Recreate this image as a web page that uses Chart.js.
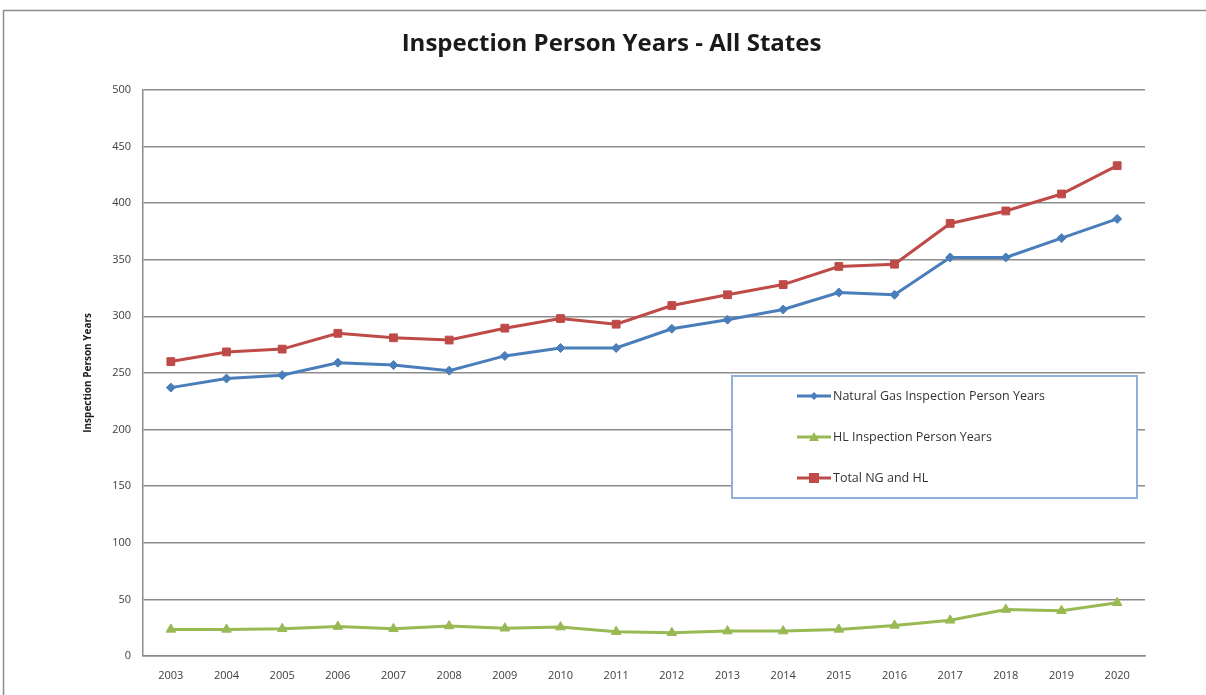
<!DOCTYPE html>
<html>
<head>
<meta charset="utf-8">
<script src="https://cdn.jsdelivr.net/npm/chart.js@4.4.0/dist/chart.umd.min.js"></script>
<style>
  body { margin: 0; background: #fff; }
  #wrap { position: relative; width: 1206px; height: 695px; overflow: hidden; }
</style>
</head>
<body>
<div id="wrap"><canvas id="chart" width="1206" height="695"></canvas></div>
<script>
// values
const years = ["2003","2004","2005","2006","2007","2008","2009","2010","2011","2012",
               "2013","2014","2015","2016","2017","2018","2019","2020"];
const naturalGas = [237, 245, 248, 259, 257, 252, 265, 272, 272, 289, 297, 306, 321, 319, 352, 352, 369, 386];
const hazLiquid  = [23.5, 23.5, 24, 26, 24, 26.5, 24.5, 25.5, 21.5, 20.5, 22, 22, 23.5, 27, 31.5, 41, 40, 47];
const totalNGHL  = [260, 268.5, 271, 285, 281, 279, 289.5, 298, 293, 309.5, 319, 328, 344, 346, 382, 393, 408, 433];
const yTicks = [0, 50, 100, 150, 200, 250, 300, 350, 400, 450, 500];

const blue = "#4a7ebb", green = "#98b954", red = "#be4b48";

// frame + legend box inside the plot, like the Excel original
const framePlugin = {
    id: "frame",
    beforeDraw(chart) {
        const c = chart.ctx;
        c.save();
        c.strokeStyle = "#8c8c8c";
        c.lineWidth = 1.5;
        c.beginPath();
        c.moveTo(3.5, 700);
        c.lineTo(3.5, 10.5);
        c.lineTo(1210, 10.5);
        c.stroke();
        c.restore();
    },
    afterDatasetsDraw(chart) {
        const c = chart.ctx;
        const box = { x: 732, y: 376, w: 405, h: 122 };
        c.save();
        c.fillStyle = "#fff";
        c.fillRect(box.x, box.y, box.w, box.h);
        c.strokeStyle = "#8fb0d8";
        c.lineWidth = 2;
        c.strokeRect(box.x, box.y, box.w, box.h);
        c.font = "12.5px 'Open Sans'";
        c.textBaseline = "middle";
        chart.data.datasets.forEach((ds, i) => {
            const y = 396 + i * 41;
            c.strokeStyle = ds.borderColor;
            c.lineWidth = 3;
            c.beginPath();
            c.moveTo(797, y);
            c.lineTo(831, y);
            c.stroke();
            c.fillStyle = ds.borderColor;
            const cx = 814;
            c.beginPath();
            if (ds.pointStyle === "rect") {
                c.rect(cx - 5, y - 5, 10, 10);
            } else if (ds.pointStyle === "triangle") {
                c.moveTo(cx, y - 5); c.lineTo(cx + 5, y + 4); c.lineTo(cx - 5, y + 4); c.closePath();
            } else {
                c.moveTo(cx, y - 4); c.lineTo(cx + 4, y); c.lineTo(cx, y + 4); c.lineTo(cx - 4, y); c.closePath();
            }
            c.fill();
            c.fillStyle = "#333";
            c.fillText(ds.label, 833, y);
        });
        c.restore();
    }
};

new Chart(document.getElementById("chart"), {
    type: "line",
    data: {
        labels: years,
        datasets: [
            { label: "Natural Gas Inspection Person Years", data: naturalGas,
              borderColor: blue, backgroundColor: blue, pointStyle: "rectRot",
              pointRadius: 4.5, borderWidth: 3, pointBorderWidth: 1 },
            { label: "HL Inspection Person Years", data: hazLiquid,
              borderColor: green, backgroundColor: green, pointStyle: "triangle",
              pointRadius: 5.5, borderWidth: 3, pointBorderWidth: 1 },
            { label: "Total NG and HL", data: totalNGHL,
              borderColor: red, backgroundColor: red, pointStyle: "rect",
              pointRadius: 5.5, borderWidth: 3, pointBorderWidth: 1 }
        ]
    },
    options: {
        responsive: false,
        animation: false,
        layout: { padding: { left: 78, right: 61, top: 20, bottom: 0 } },
        plugins: {
            legend: { display: false },
            tooltip: { enabled: false },
            title: {
                display: true,
                text: "Inspection Person Years - All States",
                color: "#1a1a1a",
                font: { family: "'Open Sans'", size: 24, weight: "bold" },
                padding: { top: 10, bottom: 31 }
            }
        },
        scales: {
            x: {
                offset: true,
                grid: { display: false, drawTicks: false },
                border: { display: true, color: "#8c8c8c", width: 1.5 },
                ticks: { color: "#404040", font: { family: "'Open Sans'", size: 11 }, padding: 13, maxRotation: 0 },
                afterFit(scale) { scale.height = 39; }
            },
            y: {
                min: 0, max: 500,
                afterBuildTicks(scale) { scale.ticks = yTicks.map(v => ({ value: v })); },
                grid: { color: "#8c8c8c", lineWidth: 1.5, drawTicks: false },
                border: { display: true, color: "#8c8c8c", width: 1.5 },
                ticks: { color: "#404040", font: { family: "'Open Sans'", size: 11 }, padding: 12 },
                title: {
                    display: true, text: "Inspection Person Years", color: "#1a1a1a",
                    font: { family: "'Open Sans'", size: 10, weight: "bold" },
                    padding: { top: 4, bottom: 0 }
                },
                afterFit(scale) { scale.width = 65; }
            }
        }
    },
    plugins: [framePlugin]
});
</script>
</body>
</html>
